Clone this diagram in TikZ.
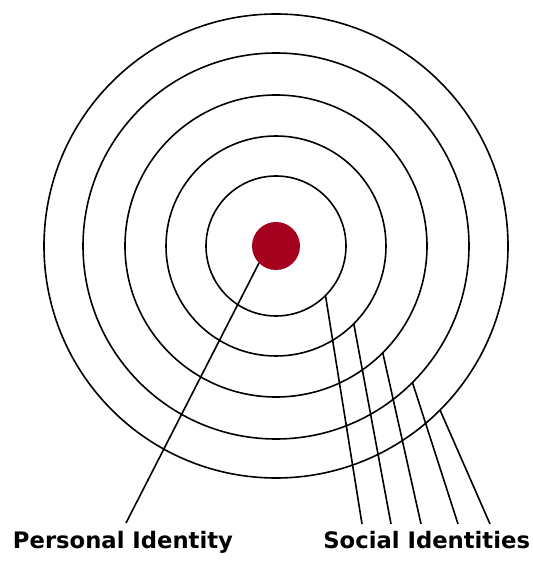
\documentclass[tikz,border=0pt]{standalone}
\usepackage{fontspec}
\setmainfont{DejaVu Sans}
\definecolor{dotRed}{RGB}{165,0,30}
\usepackage{tikz}
\usetikzlibrary{positioning}

\begin{document}
\begin{tikzpicture}[x=1pt,y=1pt,
    ring/.style={draw, circle, line width=1.6pt, inner sep=0pt, outer sep=0pt},
    link/.style={line width=1.6pt},
    lbl/.style={font=\fontsize{22.7}{26}\selectfont\bfseries, anchor=base, inner sep=0pt}]
    \useasboundingbox (0,0) rectangle (533,563);
    \coordinate (c) at (276,317);
    % rings, inner to outer
    \foreach \r/\nm in {70/r1,110/r2,151/r3,193/r4,232/r5}
      \node[ring, minimum size=2*\r] (\nm) at (c) {};
    \node[circle, fill=dotRed, minimum size=48, inner sep=0pt, outer sep=0pt] (dot) at (c) {};
    % free ends of the lines
    \coordinate (pEnd) at (126,40);
    \foreach \x/\nm in {362/s1,391/s2,421/s3,458/s4,490/s5}
      \coordinate (\nm) at (\x,39);
    \draw[link] (dot.225) -- (pEnd);
    \foreach \k in {1,...,5}
      \draw[link] (r\k.-45) -- (s\k);
    \node[lbl] (personal) at (123,14) {Personal Identity};
    \node[lbl] (social) at (426.7,14) {Social Identities};
  \end{tikzpicture}
\end{document}
